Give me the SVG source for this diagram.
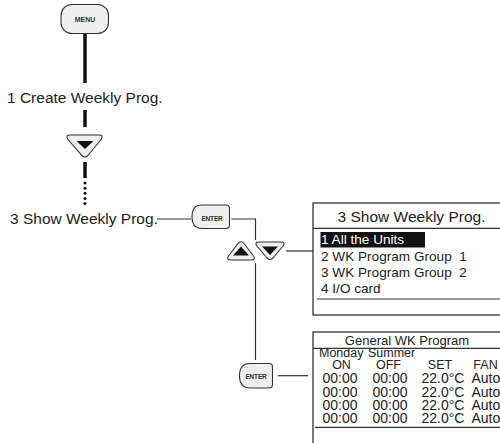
<svg xmlns="http://www.w3.org/2000/svg" width="500" height="443" viewBox="0 0 500 443">
<style>
.t{font-family:"Liberation Sans",Arial,sans-serif;fill:#222}
.btn{fill:#efefef;stroke:#333;stroke-width:1.1}
.blab{font-family:"Liberation Sans",Arial,sans-serif;font-weight:bold;fill:#333;text-anchor:middle}
.tri{fill:#111}
.conn{stroke:#333;stroke-width:1.2;fill:none}
.thick{stroke:#111;stroke-width:3.5;fill:none}
.frame{stroke:#333;stroke-width:1.3;fill:#fff}
.rule{stroke:#333;stroke-width:1.2}
</style>
<rect width="500" height="443" fill="#fff"/>
<g id="connectors">
  <line class="thick" x1="85" y1="34" x2="85" y2="83"/>
  <line class="thick" x1="85" y1="110" x2="85" y2="127"/>
  <line class="thick" x1="85" y1="162" x2="85" y2="178"/>
  <g fill="#111">
    <circle cx="85" cy="183" r="1.5"/>
    <circle cx="85" cy="188.2" r="1.5"/>
    <circle cx="85" cy="193.3" r="1.5"/>
    <circle cx="85" cy="198.4" r="1.5"/>
    <circle cx="85" cy="203.5" r="1.5"/>
  </g>
  <line class="conn" x1="157" y1="219" x2="191" y2="219"/>
  <polyline class="conn" points="231.5,219 255.5,219 255.5,240"/>
  <line class="conn" x1="255.5" y1="263" x2="255.5" y2="360"/>
  <line class="conn" x1="286" y1="251" x2="313" y2="251"/>
  <line class="conn" x1="278" y1="375.7" x2="308" y2="375.7"/>
</g>
<g id="menu">
  <rect class="btn" x="61" y="4.5" width="47.5" height="29" rx="11" ry="11"/>
  <text class="blab" x="85" y="21.5" font-size="7">MENU</text>
</g>
<g id="step1">
  <text class="t" x="7" y="103" font-size="15.5">1 Create Weekly Prog.</text>
</g>
<g id="down1">
  <path class="btn" d="M70,135 L99,135 Q104,135 101,139.5 L88,155.5 Q85,158.5 82,155.5 L68,139.5 Q65,135 70,135 Z"/>
  <path class="tri" d="M76.5,141 L93.5,141 L85,149 Z"/>
</g>
<g id="step3">
  <text class="t" x="10" y="224" font-size="15.5">3 Show Weekly Prog.</text>
</g>
<g id="enter1">
  <path class="btn" d="M202,205 L226,205 Q229.5,205 229.5,208.5 L229.5,225 Q229.5,228.5 226,228.5 L202,228.5 Q192,228.5 192,216.75 Q192,205 202,205 Z"/>
  <text class="blab" x="212" y="221" font-size="6.5" letter-spacing="-0.2">ENTER</text>
</g>
<g id="up2">
  <path class="btn" d="M231,260 L251,260 Q256,260 253.5,256 L244,243.5 Q241,240 238,243.5 L228.5,256 Q226,260 231,260 Z"/>
  <path class="tri" d="M233,255.5 L249,255.5 L241,246.5 Z"/>
</g>
<g id="down2">
  <path class="btn" d="M259,242 L281,242 Q286,242 283,246 L273,258 Q270,261 267,258 L257,246 Q254,242 259,242 Z"/>
  <path class="tri" d="M262,246.5 L278,246.5 L270,255 Z"/>
</g>
<g id="enter2">
  <path class="btn" d="M250,363.5 L269,363.5 Q272.5,363.5 272.5,367 L272.5,384.5 Q272.5,388 269,388 L250,388 Q239.5,388 239.5,375.75 Q239.5,363.5 250,363.5 Z"/>
  <text class="blab" x="256" y="378.5" font-size="6.5" letter-spacing="-0.2">ENTER</text>
</g>
<g id="screen1">
  <rect class="frame" x="313" y="203" width="200" height="112"/>
  <text class="t" x="411.5" y="222" font-size="15.5" text-anchor="middle">3 Show Weekly Prog.</text>
  <line class="rule" x1="313" y1="228.3" x2="500" y2="228.3"/>
  <rect x="320.5" y="232" width="104.5" height="15.5" fill="#111"/>
  <text class="t" x="321" y="244" font-size="13.6" style="fill:#fff">1 All the Units</text>
  <text class="t" x="321" y="260.5" font-size="13.6" xml:space="preserve">2 WK Program Group  1</text>
  <text class="t" x="321" y="277" font-size="13.6" xml:space="preserve">3 WK Program Group  2</text>
  <text class="t" x="321" y="293" font-size="13.6">4 I/O card</text>
  <line class="rule" x1="317" y1="299" x2="500" y2="299"/>
</g>
<g id="screen2">
  <rect class="frame" x="313" y="332" width="200" height="120"/>
  <text class="t" x="407" y="344.5" font-size="13" text-anchor="middle">General WK Program</text>
  <line class="rule" x1="313" y1="348.3" x2="500" y2="348.3"/>
  <text class="t" x="319" y="357.3" font-size="12.5">Monday</text>
  <text class="t" x="368" y="357.3" font-size="12.5">Summer</text>
  <text class="t" x="341.5" y="369.3" font-size="12.5" text-anchor="middle">ON</text>
  <text class="t" x="388.5" y="369.3" font-size="12.5" text-anchor="middle">OFF</text>
  <text class="t" x="440" y="369.3" font-size="12.5" text-anchor="middle">SET</text>
  <text class="t" x="485.5" y="369.3" font-size="12.5" text-anchor="middle">FAN</text>
  <g font-size="14">
    <text class="t" x="322.5" y="383.3">00:00</text>
    <text class="t" x="372.5" y="383.3">00:00</text>
    <text class="t" x="421.5" y="383.3">22.0°C</text>
    <text class="t" x="471.5" y="383.3">Auto</text>
    <text class="t" x="322.5" y="396.7">00:00</text>
    <text class="t" x="372.5" y="396.7">00:00</text>
    <text class="t" x="421.5" y="396.7">22.0°C</text>
    <text class="t" x="471.5" y="396.7">Auto</text>
    <text class="t" x="322.5" y="410">00:00</text>
    <text class="t" x="372.5" y="410">00:00</text>
    <text class="t" x="421.5" y="410">22.0°C</text>
    <text class="t" x="471.5" y="410">Auto</text>
    <text class="t" x="322.5" y="422.7">00:00</text>
    <text class="t" x="372.5" y="422.7">00:00</text>
    <text class="t" x="421.5" y="422.7">22.0°C</text>
    <text class="t" x="471.5" y="422.7">Auto</text>
  </g>
  <line class="rule" x1="315" y1="427.3" x2="500" y2="427.3"/>
</g>
</svg>
